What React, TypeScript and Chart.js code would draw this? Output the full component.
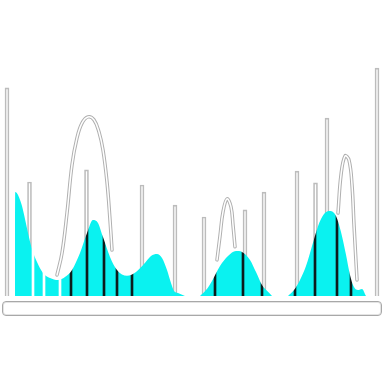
import React, { useEffect, useRef } from "react";
import { Chart, registerables } from "chart.js";
Chart.register(...registerables);

// Density (cyan area) — null breaks the clusters
const densityX = [
  3.75, 3.8, 4.2, 4.75, 5.5, 6.25, 7, 8, 9.25, 10.75, 12.5, 14.5, 16.25, 18, 20, 21.75, 23.25, 24.5, 25.75, 27.5, 29.25, 31.75, 34, 36, 37.75, 39.25, 40.5, 41.75, 42.75, 43.5, 44.5, 46.25,
  48,
  50, 51.5, 53, 55, 57, 59, 60.5, 62.5, 64, 65.5, 67, 68,
  70,
  72, 73.5, 75, 76.5, 78, 79.5, 81, 82.5, 84, 85.25, 86.5, 87.5, 88.5, 89.5, 90.5, 91.5,
];
const densityY = [
  0, 35.1, 34.8, 33.4, 30.4, 26.0, 21.3, 15.9, 11.5, 7.8, 6.1, 5.4, 6.4, 8.8, 14.5, 21.3, 25.7, 24.7, 19.9, 13.2, 8.8, 6.8, 8.1, 10.8, 13.5, 14.2, 12.8, 8.8, 4.4, 1.7, 1.0, 0,
  null,
  0, 2.0, 5.1, 10.1, 13.5, 15.2, 14.9, 12.2, 8.1, 3.7, 1.4, 0,
  null,
  0, 2.0, 5.4, 10.1, 16.9, 23.6, 27.7, 28.7, 27.0, 21.6, 13.9, 7.1, 3.0, 2.0, 2.4, 0,
];

// Thin bars (white with grey outline)
const barX = [1.75, 7.375, 21.625, 35.5, 43.75, 51, 61.25, 66, 74.25, 78.875, 81.75, 94.25];
const barY = [70.3, 38.5, 42.6, 37.5, 30.7, 26.7, 29.1, 35.1, 42.2, 38.2, 60.1, 77.0];

// Rug lines seen inside the density
const darkLineX = [17.75, 21.75, 26, 29.25, 33, 53.75, 60.75, 65.5, 73.75, 78.75, 84.25, 87.75];
const lightLineX = [8.25, 11, 15];

// Outlined curve — null breaks the segments
const curveX = [
  14.25, 15.5, 16.75, 18, 19.25, 20.5, 22, 23.5, 24.75, 25.75, 26.75, 27.5, 28,
  40,
  54.25, 55, 55.75, 56.75, 57.75, 58.25, 58.75,
  70,
  84.5, 85.25, 86.25, 87.25, 88, 88.5, 89.25,
];
const curveY = [
  7.1, 14.5, 28.0, 44.3, 53.4, 58.4, 60.5, 59.5, 55.4, 49.3, 38.5, 25.7, 15.5,
  null,
  12.2, 20.3, 28.4, 32.8, 30.1, 24.0, 16.6,
  null,
  28.0, 40.9, 47.3, 45.9, 37.5, 24.0, 5.4,
];

const X_MAX = 96;
const Y_MAX = 100;

const CYAN = "rgb(10,242,240)";

const compositePlugin = {
  id: "compositeOps",
  beforeDatasetDraw(chart: any, args: any) {
    const op = chart.data.datasets[args.index].composite;
    if (op) chart.ctx.globalCompositeOperation = op;
  },
  afterDatasetDraw(chart: any) {
    chart.ctx.globalCompositeOperation = "source-over";
  },
};

export default function App() {
  const ref = useRef<HTMLCanvasElement>(null);
  useEffect(() => {
    if (!ref.current) return;
    const pts = (xs: number[], ys: (number | null)[]) => xs.map((x, i) => ({ x, y: ys[i] }));
    const chart = new Chart(ref.current, {
      type: "bar",
      data: {
        datasets: [
          {
            type: "line",
            data: pts(densityX, densityY),
            backgroundColor: CYAN,
            borderWidth: 0,
            pointRadius: 0,
            fill: "origin",
            spanGaps: false,
            cubicInterpolationMode: "monotone",
            order: 5,
          } as any,
          {
            data: darkLineX.map((x) => ({ x, y: Y_MAX })),
            backgroundColor: "#0c1c1c",
            barThickness: 2,
            grouped: false,
            borderWidth: 0,
            order: 4,
            composite: "source-atop",
          } as any,
          {
            data: lightLineX.map((x) => ({ x, y: Y_MAX })),
            backgroundColor: "#ffffff",
            barThickness: 2,
            grouped: false,
            borderWidth: 0,
            order: 4,
            composite: "source-atop",
          } as any,
          {
            data: pts(barX, barY),
            backgroundColor: "#ffffff",
            borderColor: "#bcbcbc",
            borderWidth: 1,
            barThickness: 4,
            grouped: false,
            order: 3,
            composite: "destination-over",
          } as any,
          {
            type: "line",
            data: pts(curveX, curveY),
            borderColor: "#b0b0b0",
            borderWidth: 3.5,
            borderCapStyle: "round",
            pointRadius: 0,
            tension: 0.4,
            spanGaps: false,
            fill: false,
            order: 2,
          } as any,
          {
            type: "line",
            data: pts(curveX, curveY),
            borderColor: "#ffffff",
            borderWidth: 1.5,
            borderCapStyle: "round",
            pointRadius: 0,
            tension: 0.4,
            spanGaps: false,
            fill: false,
            order: 1,
          } as any,
        ],
      },
      options: {
        animation: false,
        responsive: false,
        devicePixelRatio: 1,
        layout: { padding: { left: 0, right: 0, top: 0, bottom: 88 } },
        plugins: { legend: { display: false }, tooltip: { enabled: false } },
        scales: {
          x: { type: "linear", min: 0, max: X_MAX, display: false, offset: false },
          y: { min: 0, max: Y_MAX, display: false },
        },
      },
      plugins: [compositePlugin],
    });
    return () => chart.destroy();
  }, []);
  return (
    <div style={{ position: "fixed", left: 0, top: 0, width: 384, height: 384, background: "#fff" }}>
      <canvas ref={ref} width={384} height={384} style={{ position: "absolute", left: 0, top: 0 }} />
      <div
        style={{
          position: "absolute",
          left: 2,
          top: 301,
          width: 380,
          height: 15,
          boxSizing: "border-box",
          border: "1px solid #a8a8a8",
          borderRadius: 4,
          boxShadow: "inset 0 0 0 1px #e4e4e4",
        }}
      />
    </div>
  );
}
